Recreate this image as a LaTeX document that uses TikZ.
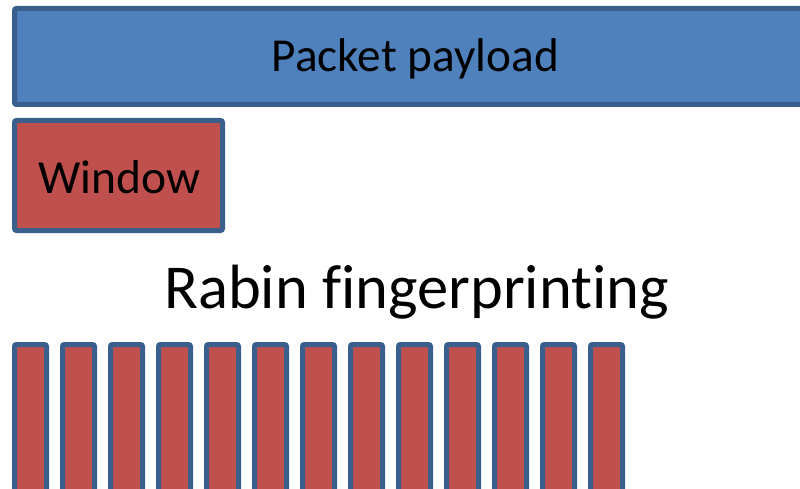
\documentclass[tikz,border=0pt]{standalone}
\usepackage{fontspec}
\setmainfont{Carlito}[RawFeature={-liga;-clig;-dlig}]
\definecolor{payloadfill}{HTML}{4F81BD}
\definecolor{boxedge}{HTML}{3A5F8C}
\definecolor{winfill}{HTML}{C0504D}
\tikzset{
  block/.style={draw=boxedge, line width=5pt, rounded corners=2pt,
    rectangle, outer sep=0pt, inner sep=0pt, anchor=north west},
  payloadbox/.style={block, fill=payloadfill},
  windowbox/.style={block, fill=winfill},
  chunk/.style={block, fill=winfill, minimum width=32pt, minimum height=160pt},
  caption/.style={anchor=base, inner sep=0pt, text=black}
}
\begin{document}
\begin{tikzpicture}[x=1pt, y=-1pt]
  \useasboundingbox (0,0) rectangle (800,489);
  \clip (0,0) rectangle (800,489);
  % payload bar running off the right edge
  \node[payloadbox, minimum width=820pt, minimum height=96pt] (payload) at (14.5,8.5) {};
  \node[caption, font=\fontsize{47.3}{52}\selectfont] (payloadtext) at (415.2,71.7) {Packet payload};
  % sliding window
  \node[windowbox, minimum width=208pt, minimum height=110pt] (window) at (14.5,120.5) {};
  \node[caption, font=\fontsize{47.5}{52}\selectfont] (windowtext) at (119.2,193.3) {Window};
  % operation label
  \node[caption, font=\fontsize{62.5}{70}\selectfont] (rabin) at (416.7,308.3) {Rabin fingerprinting};
  % fingerprint chunks
  \foreach \i in {0,...,12} {
    \node[chunk] (chunk\i) at ({14.5+48*\i},344.5) {};
  }
\end{tikzpicture}
\end{document}
